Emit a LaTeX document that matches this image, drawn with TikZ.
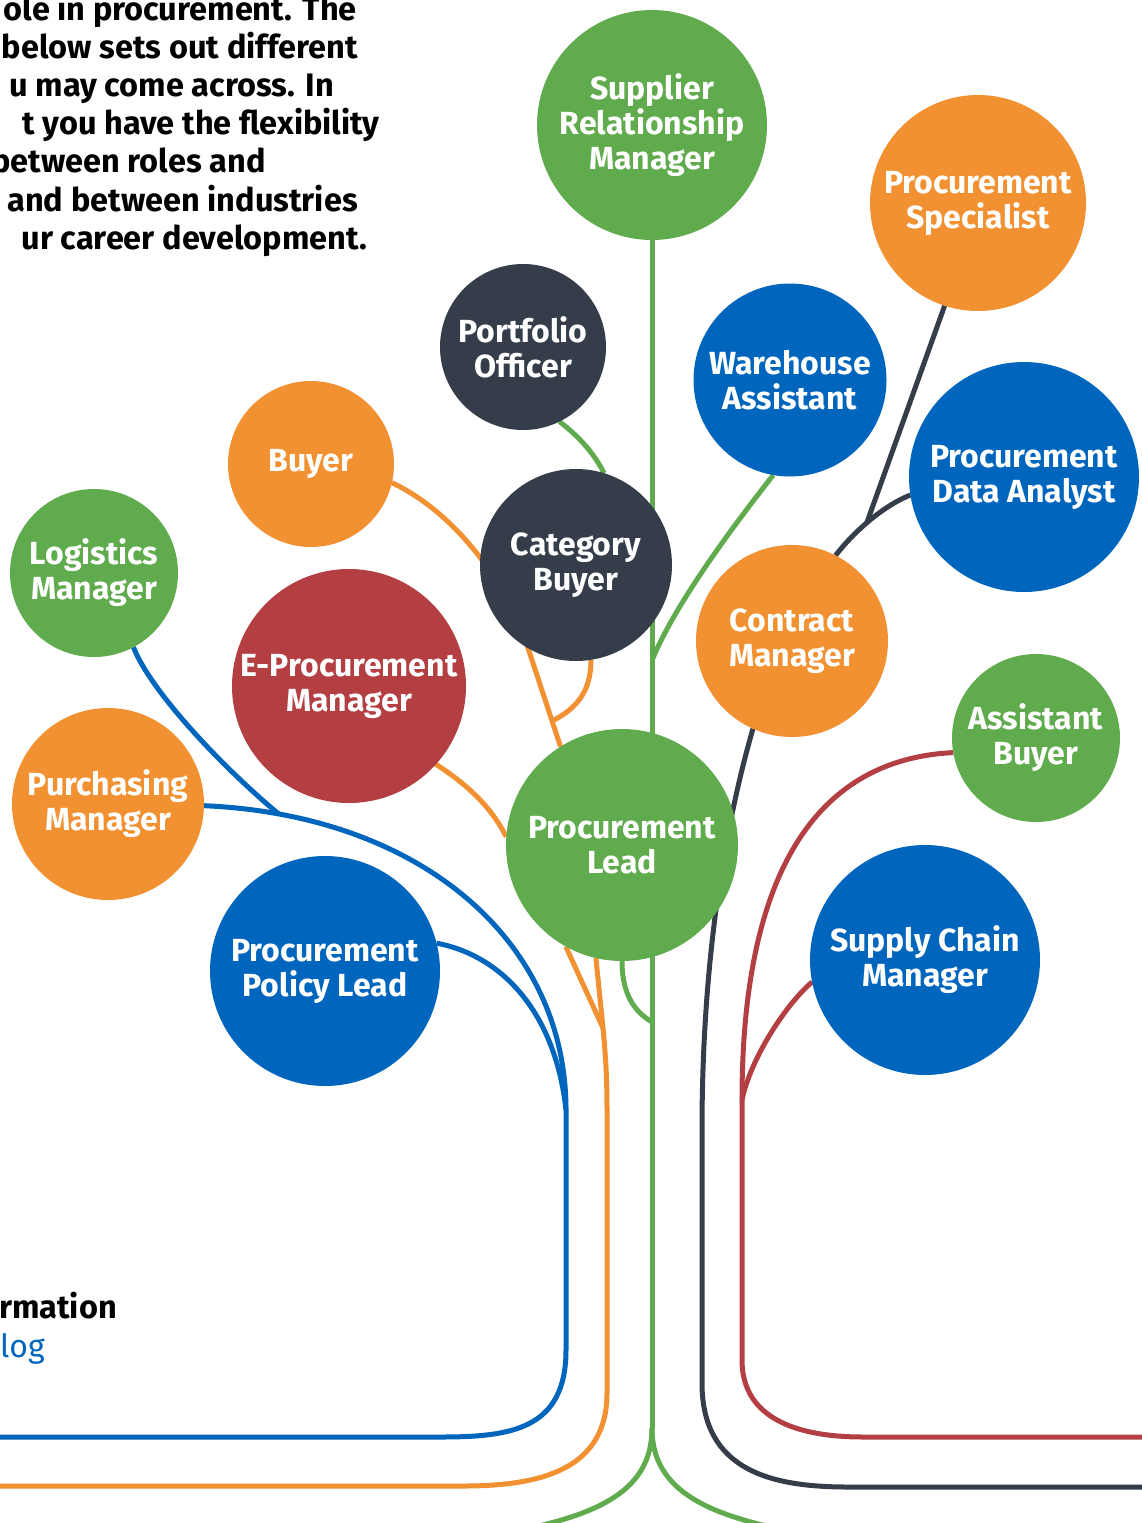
\documentclass[tikz,border=0pt]{standalone}
\usepackage{fontspec}
\setmainfont{Fira Sans}
\pgfdeclarelayer{bg}
\pgfsetlayers{bg,main}
\definecolor{cgreen}{RGB}{96,171,77}
\definecolor{corange}{RGB}{241,145,50}
\definecolor{cblue}{RGB}{0,101,189}
\definecolor{cdark}{RGB}{52,61,73}
\definecolor{cred}{RGB}{179,63,66}
\tikzset{
  bub/.style={circle, inner sep=0pt, outer sep=0pt, text=white, align=center,
    font=\bfseries\fontsize{32}{35}\selectfont},
  gline/.style={draw=cgreen, line width=5pt},
  oline/.style={draw=corange, line width=5pt},
  bline/.style={draw=cblue, line width=5pt},
  dline/.style={draw=cdark, line width=5pt},
  rline/.style={draw=cred, line width=5pt},
  intro/.style={anchor=base east, inner sep=0pt, text=black,
    font=\bfseries\fontsize{32.5}{38}\selectfont}
}
\begin{document}
\begin{tikzpicture}[x=1pt,y=-1pt]
\useasboundingbox (0,0) rectangle (1142,1523);
\clip (0,0) rectangle (1142,1523);
% circles
\node[bub, fill=cgreen,  minimum size=230pt] (srm) at (652,125) {Supplier\\Relationship\\Manager};
\node[bub, fill=corange, minimum size=216pt] (ps)  at (978,203) {Procurement\\Specialist};
\node[bub, fill=cdark,   minimum size=166pt] (po)  at (523,347) {Portfolio\\Officer};
\node[bub, fill=cblue,   minimum size=193pt] (wa)  at (790,380) {Warehouse\\Assistant};
\node[bub, fill=cblue,   minimum size=230pt] (pda) at (1024,477) {Procurement\\Data Analyst};
\node[bub, fill=corange, minimum size=166pt] (bu)  at (311,464) {Buyer};
\node[bub, fill=cdark,   minimum size=192pt] (cb)  at (576,565) {Category\\Buyer};
\node[bub, fill=cgreen,  minimum size=168pt] (lm)  at (94,573) {Logistics\\Manager};
\node[bub, fill=cred,    minimum size=234pt] (epm) at (349,686) {E-Procurement\\Manager};
\node[bub, fill=corange, minimum size=192pt] (cm)  at (792,641) {Contract\\Manager};
\node[bub, fill=cgreen,  minimum size=168pt] (ab)  at (1036,738) {Assistant\\Buyer};
\node[bub, fill=corange, minimum size=192pt] (pm)  at (108,804) {Purchasing\\Manager};
\node[bub, fill=cgreen,  minimum size=232pt] (pl)  at (622,845) {Procurement\\Lead};
\node[bub, fill=cblue,   minimum size=230pt] (ppl) at (325,971) {Procurement\\Policy Lead};
\node[bub, fill=cblue,   minimum size=230pt] (scm) at (925,960) {Supply Chain\\Manager};
% texts
\node[intro] (t1) at (357,20)  {ole in procurement. The};
\node[intro] (t2) at (358,58)  {below sets out different};
\node[intro] (t3) at (334,96)  {u may come across. In};
\node[intro] (t4) at (380,134) {t you have the flexibility};
\node[intro] (t5) at (266,172) {between roles and};
\node[intro] (t6) at (358,211) {and between industries};
\node[intro] (t7) at (367,249) {ur career development.};
\node[intro, font=\bfseries\fontsize{32.5}{38}\selectfont] (t8) at (117,1318) {rmation};
\node[anchor=base west, inner sep=0pt, text=cblue, font=\fontsize{32}{38}\selectfont] (t9) at (0,1357) {log};
% free ends and junctions
\coordinate (gsplit) at (652,1428);
\coordinate (gj1) at (653,658);
\coordinate (gj2) at (652,1022);
\coordinate (gl) at (510,1532);
\coordinate (gr) at (795,1532);
\coordinate (oc1) at (528,648);
\coordinate (oj2) at (603,1028);
\coordinate (oend) at (-20,1486);
\coordinate (bend) at (-20,1437);
\coordinate (rj) at (742,1100);
\coordinate (rend) at (1160,1437);
\coordinate (dend) at (1160,1487);
\begin{pgfonlayer}{bg}
\fill[white] (0,0) rectangle (1142,1523);
% green
\draw[gline] (srm.south) -- (gsplit);
\draw[gline] (gsplit) .. controls (652,1490) and (600,1515) .. (gl);
\draw[gline] (gsplit) .. controls (652,1490) and (706,1515) .. (gr);
\draw[gline] (po.-64) .. controls (580,437) and (595,455) .. (cb.73);
\draw[gline] (wa.-100) .. controls (730,530) and (675,605) .. (gj1);
\draw[gline] (pl.south) .. controls (622,995) and (635,1012) .. (gj2);
% orange
\draw[oline] (bu.-13) .. controls (460,515) and (510,590) .. (oc1) -- coordinate[pos=0.74] (oj1) (pl.122);
\draw[oline] (cb.-81) .. controls (591,690) and (578,708) .. (oj1);
\draw[oline] (epm.-42) .. controls (468,785) and (492,808) .. (pl.176);
\draw[oline] (pl.-119) -- (oj2);
\draw[oline] (pl.-103) -- (oj2);
\draw[oline] (oj2) .. controls (606,1060) and (607,1080) .. (607,1110) -- (607,1393) .. controls (607,1470) and (540,1486) .. (463,1486) -- (oend);
% blue
\draw[bline] (pm.-1) .. controls (420,815) and (566,940) .. coordinate[pos=0.12] (bj1) (566,1110) -- (566,1350) .. controls (566,1430) and (510,1437) .. (440,1437) -- (bend);
\draw[bline] (lm.-62) .. controls (150,690) and (220,765) .. (bj1);
\draw[bline] (ppl.14) .. controls (500,955) and (555,1010) .. (566,1110);
% dark
\draw[dline] (pda.-171) .. controls (885,505) and (855,530) .. coordinate[pos=0.55] (dj) (cm.63);
\draw[dline] (ps.-108) -- (dj);
\draw[dline] (cm.-114) .. controls (728,815) and (702,950) .. (702,1130) -- (702,1383) .. controls (702,1470) and (770,1487) .. (848,1487) -- (dend);
% red
\draw[rline] (ab.190) .. controls (800,760) and (742,900) .. (rj) -- (742,1360) .. controls (742,1420) and (800,1437) .. (863,1437) -- (rend);
\draw[rline] (scm.-169) .. controls (785,1005) and (750,1060) .. (rj);
\end{pgfonlayer}
\end{tikzpicture}
\end{document}
